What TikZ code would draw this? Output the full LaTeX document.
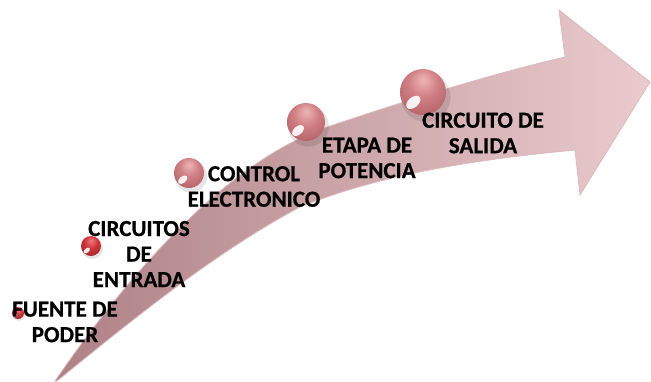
\documentclass[tikz,border=0pt]{standalone}
\usepackage{fontspec}
\setmainfont{Carlito}
\newfontfamily\lblfont{Carlito Bold}[FakeBold=0.6]
\definecolor{tailc}{HTML}{AE8186}
\definecolor{midc}{HTML}{D5B0B3}
\definecolor{headc}{HTML}{EACBCD}
\definecolor{edgec}{HTML}{DDB9BC}
\definecolor{pbl}{HTML}{EDB5B6}
\definecolor{pbm}{HTML}{D08084}
\definecolor{pbd}{HTML}{A04E54}
\definecolor{rbl}{HTML}{F07C7E}
\definecolor{rbm}{HTML}{CE353B}
\definecolor{rbd}{HTML}{861A20}
\pgfdeclareradialshading{pinkball}{\pgfpoint{0bp}{14bp}}{color(0bp)=(pbl); color(16bp)=(pbm); color(46bp)=(pbd); color(64bp)=(pbd)}
\pgfdeclareradialshading{redball}{\pgfpoint{0bp}{14bp}}{color(0bp)=(rbl); color(16bp)=(rbm); color(46bp)=(rbd); color(64bp)=(rbd)}
\newcommand\mysphere[5]{%
  \fill[black,opacity=0.10] (#2+0.12*#4,#3+0.22*#4) circle[radius=1.08*#4];
  \node[circle, inner sep=0pt, minimum size={2*#4pt}, shading=#5] (#1) at (#2,#3) {};
  \fill[white,opacity=0.9] (#2-0.42*#4,#3+0.45*#4) ellipse[x radius=0.36*#4, y radius=0.22*#4, rotate=40];
}
\tikzset{lbl/.style={font=\lblfont\fontsize{23}{25.5}\selectfont, align=center, inner sep=0pt, text=black}}
\begin{document}
\begin{tikzpicture}[x=1pt,y=-1pt]
\useasboundingbox (0,0) rectangle (651,381);
% arrow body
\shade[left color=tailc, middle color=midc, right color=headc, draw=edgec, line width=0.8pt]
  (55,381) .. controls (145,250) and (240,156) .. (330,126)
  .. controls (420,96) and (500,72) .. (565,57)
  -- (559,10) -- (650,82) -- (580,195) -- (575,150)
  .. controls (470,160) and (380,175) .. (300,207)
  .. controls (210,255) and (120,330) .. (57,381) -- cycle;
% spheres
\mysphere{b1}{18}{313}{6}{redball}
\mysphere{b2}{91}{246}{10}{redball}
\mysphere{b3}{189}{173}{15}{pinkball}
\mysphere{b4}{306}{122}{19}{pinkball}
\mysphere{b5}{423}{92}{23}{pinkball}
% labels
\node[lbl] (t1) at (65,322) {FUENTE DE\\PODER};
\node[lbl] (t2) at (139,254) {CIRCUITOS\\DE\\ENTRADA};
\node[lbl] (t3) at (254,186.5) {CONTROL\\ELECTRONICO};
\node[lbl] (t4) at (367,158) {ETAPA DE\\POTENCIA};
\node[lbl] (t5) at (483,133) {CIRCUITO DE\\SALIDA};
\end{tikzpicture}
\end{document}
